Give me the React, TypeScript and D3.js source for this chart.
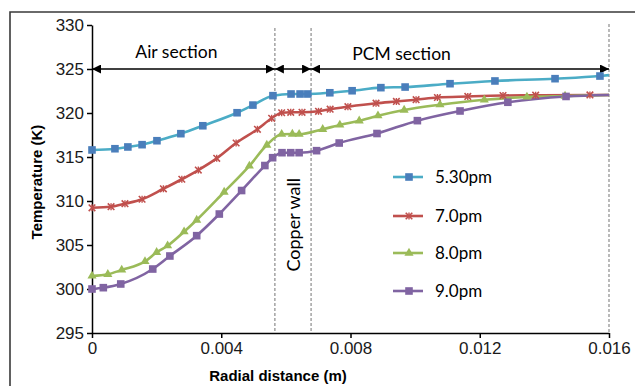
import React, { useRef, useEffect } from "react";
import * as d3 from "d3";

const seriesNames = ["5.30pm", "7.0pm", "8.0pm", "9.0pm"];

const x530 = [0, 0.00071, 0.00111, 0.00155, 0.00201, 0.00275, 0.00343, 0.00449, 0.00498, 0.0056, 0.00616, 0.00644, 0.00668, 0.00736, 0.00805, 0.00894, 0.00969, 0.01108, 0.01247, 0.01433, 0.01572, 0.016];
const y530 = [315.8, 315.94, 316.14, 316.4, 316.85, 317.65, 318.55, 320.03, 320.9, 321.97, 322.16, 322.16, 322.16, 322.3, 322.53, 322.88, 322.95, 323.33, 323.64, 323.9, 324.2, 324.3];

const x700 = [0, 0.00059, 0.00102, 0.00155, 0.00221, 0.00278, 0.00329, 0.00386, 0.00446, 0.00512, 0.00556, 0.00587, 0.00615, 0.0065, 0.00701, 0.00737, 0.00792, 0.00879, 0.00942, 0.01003, 0.01069, 0.01163, 0.01272, 0.01373, 0.01541, 0.016];
const y700 = [309.23, 309.35, 309.69, 310.2, 311.39, 312.47, 313.52, 314.85, 316.59, 318.15, 319.4, 320.03, 320.08, 320.08, 320.19, 320.43, 320.72, 321.11, 321.31, 321.51, 321.76, 321.88, 321.99, 322.02, 322.05, 322.05];

const x800 = [0, 0.00049, 0.00092, 0.00164, 0.002, 0.00234, 0.00285, 0.00324, 0.00409, 0.00487, 0.00541, 0.00587, 0.0062, 0.00641, 0.00714, 0.00767, 0.00827, 0.00885, 0.00966, 0.01077, 0.01214, 0.01346, 0.01464, 0.016];
const y800 = [301.48, 301.67, 302.16, 303.13, 304.17, 304.92, 306.51, 307.84, 311.02, 313.98, 316.36, 317.59, 317.61, 317.59, 318.15, 318.64, 319.11, 319.69, 320.34, 320.94, 321.5, 321.82, 321.93, 322.05];

const x900 = [0, 0.00035, 0.00089, 0.00188, 0.00241, 0.00324, 0.00394, 0.00463, 0.00535, 0.00559, 0.00588, 0.00615, 0.00641, 0.00695, 0.00765, 0.00882, 0.01007, 0.01139, 0.01287, 0.01467, 0.016];
const y900 = [300.0, 300.15, 300.57, 302.27, 303.75, 306.06, 308.52, 311.19, 314.03, 314.92, 315.49, 315.49, 315.49, 315.72, 316.59, 317.67, 319.13, 320.23, 321.22, 321.88, 322.05];

const xTicks = [0, 0.004, 0.008, 0.012, 0.016];
const yTicks = [295, 300, 305, 310, 315, 320, 325, 330];

// section boundaries (m)
const boundaries = [0, 0.00566, 0.00678, 0.016];
const sectionLabels = ["Air section", "Copper wall", "PCM section"];

const lineColors = ["#4bacc6", "#c0504d", "#9bbb59", "#8064a2"];
const markerColors = ["#4a7ebb", "#c0504d", "#9bbb59", "#8064a2"];
const markerTypes = ["square", "star", "triangle", "square"];

const W = 635;
const H = 386;
const annotFont = "Lato, 'Open Sans', sans-serif";
const axisFont = "'Liberation Sans', Arial, sans-serif";

const App = () => {
  const svgRef = useRef<SVGSVGElement>(null);

  useEffect(() => {
    const margin = { top: 25, right: 26, bottom: 53, left: 92 };
    const width = W - margin.left - margin.right;
    const height = H - margin.top - margin.bottom;

    const svg = d3.select(svgRef.current);
    svg.selectAll("*").remove();

    // outer frame (left + top edges only visible)
    svg
      .append("path")
      .attr("d", `M10,${H} L10,12 L${W},12`)
      .attr("fill", "none")
      .attr("stroke", "#3a3a3a")
      .attr("stroke-width", 1.6);

    const defs = svg.append("defs");
    defs
      .append("marker")
      .attr("id", "arrowhead")
      .attr("viewBox", "0 0 10 10")
      .attr("refX", 10)
      .attr("refY", 5)
      .attr("markerWidth", 9)
      .attr("markerHeight", 9)
      .attr("markerUnits", "userSpaceOnUse")
      .attr("orient", "auto-start-reverse")
      .append("path")
      .attr("d", "M0,0 L10,5 L0,10 Z")
      .attr("fill", "#000");

    const chart = svg
      .append("g")
      .attr("transform", `translate(${margin.left}, ${margin.top})`);

    const x = d3.scaleLinear().domain([0, 0.016]).range([0, width]);
    const y = d3.scaleLinear().domain([295, 330]).range([height, 0]);

    // dashed boundaries
    chart
      .selectAll(".boundary")
      .data(boundaries.slice(1))
      .enter()
      .append("line")
      .attr("class", "boundary")
      .attr("x1", (d) => x(d))
      .attr("x2", (d) => x(d))
      .attr("y1", (d, i) => (i === 2 ? -1 : 3))
      .attr("y2", height)
      .attr("stroke", "#8c8c8c")
      .attr("stroke-width", 1.2)
      .attr("stroke-dasharray", "3,2");

    // axes
    const xAxis = d3
      .axisBottom(x)
      .tickValues(xTicks)
      .tickSize(5)
      .tickSizeOuter(0)
      .tickPadding(4)
      .tickFormat((d) => (d === 0 ? "0" : d3.format(".3f")(d as number)));
    const yAxis = d3
      .axisLeft(y)
      .tickValues(yTicks)
      .tickSize(5)
      .tickSizeOuter(0)
      .tickPadding(3)
      .tickFormat(d3.format("d"));

    const gx = chart
      .append("g")
      .attr("transform", `translate(0, ${height})`)
      .call(xAxis);
    const gy = chart.append("g").call(yAxis);

    [gx, gy].forEach((g) => {
      g.select(".domain").attr("stroke", "#000").attr("stroke-width", 1.5);
      g.selectAll(".tick line").attr("stroke", "#000").attr("stroke-width", 1.5);
      g.selectAll(".tick text")
        .attr("fill", "#1a1a1a")
        .style("font-family", axisFont)
        .style("font-size", "17px");
    });

    // section arrows at 325 K
    for (let i = 0; i < 3; i++) {
      chart
        .append("line")
        .attr("x1", x(boundaries[i]))
        .attr("x2", x(boundaries[i + 1]))
        .attr("y1", y(325))
        .attr("y2", y(325))
        .attr("stroke", "#000")
        .attr("stroke-width", 1.6)
        .attr("marker-start", "url(#arrowhead)")
        .attr("marker-end", "url(#arrowhead)");
    }

    chart
      .append("text")
      .attr("x", x((boundaries[0] + boundaries[1]) / 2) - 7)
      .attr("y", y(326.3))
      .attr("text-anchor", "middle")
      .style("font-family", annotFont)
      .style("font-size", "17.5px")
      .text(sectionLabels[0]);

    chart
      .append("text")
      .attr("x", x(0.00958))
      .attr("y", y(326))
      .attr("text-anchor", "middle")
      .style("font-family", annotFont)
      .style("font-size", "17.5px")
      .text(sectionLabels[2]);

    chart
      .append("text")
      .attr(
        "transform",
        `translate(${x((boundaries[1] + boundaries[2]) / 2) + 7}, ${y(307.3)}) rotate(-90)`
      )
      .attr("text-anchor", "middle")
      .style("font-family", annotFont)
      .style("font-size", "18px")
      .text(sectionLabels[1]);

    // series
    const xs = [x530, x700, x800, x900];
    const ys = [y530, y700, y800, y900];
    const series = seriesNames.map((name, i) =>
      xs[i].map((v, j) => ({ x: v, y: ys[i][j] }))
    );

    const line = d3
      .line<{ x: number; y: number }>()
      .x((d) => x(d.x))
      .y((d) => y(d.y))
      .curve(d3.curveMonotoneX);

    const drawMarker = (g: any, type: string, cx: number, cy: number, i: number) => {
      if (type === "square") {
        g.append("rect")
          .attr("x", cx - 3.8)
          .attr("y", cy - 3.8)
          .attr("width", 7.6)
          .attr("height", 7.6)
          .attr("fill", markerColors[i]);
      } else if (type === "triangle") {
        g.append("path")
          .attr("d", d3.symbol().type(d3.symbolTriangle).size(36)())
          .attr("transform", `translate(${cx}, ${cy})`)
          .attr("fill", markerColors[i]);
      } else {
        g.append("path")
          .attr("d", d3.symbol().type(d3.symbolTimes).size(30)())
          .attr("transform", `translate(${cx}, ${cy})`)
          .attr("fill", "none")
          .attr("stroke", markerColors[i])
          .attr("stroke-width", 1.6);
        g.append("line")
          .attr("x1", cx)
          .attr("x2", cx)
          .attr("y1", cy - 3.5)
          .attr("y2", cy + 3.5)
          .attr("stroke", markerColors[i])
          .attr("stroke-width", 1.4);
      }
    };

    series.forEach((pts, i) => {
      chart
        .append("path")
        .datum(pts)
        .attr("d", line)
        .attr("fill", "none")
        .attr("stroke", lineColors[i])
        .attr("stroke-width", 2.6);
    });

    series.forEach((pts, i) => {
      const g = chart.append("g");
      pts.slice(0, -1).forEach((p) => drawMarker(g, markerTypes[i], x(p.x), y(p.y), i));
    });

    // legend
    const legend = chart.append("g").attr("transform", `translate(${393 - margin.left}, ${177 - margin.top})`);
    seriesNames.forEach((name, i) => {
      const gy0 = [0, 39, 76, 114][i];
      const g = legend.append("g").attr("transform", `translate(0, ${gy0})`);
      g.append("line")
        .attr("x1", 0)
        .attr("x2", 30)
        .attr("y1", 0)
        .attr("y2", 0)
        .attr("stroke", lineColors[i])
        .attr("stroke-width", 2.6);
      drawMarker(g, markerTypes[i], 16, 0, i);
      g.append("text")
        .attr("x", 42)
        .attr("y", 6)
        .style("font-family", annotFont)
        .style("font-size", "17px")
        .text(name);
    });

    // axis titles
    svg
      .append("text")
      .attr("x", 278)
      .attr("y", 381)
      .attr("text-anchor", "middle")
      .style("font-family", axisFont)
      .style("font-size", "15px")
      .style("font-weight", "bold")
      .text("Radial distance (m)");

    svg
      .append("text")
      .attr("transform", `translate(42, 182) rotate(-90)`)
      .attr("text-anchor", "middle")
      .style("font-family", axisFont)
      .style("font-size", "15px")
      .style("font-weight", "bold")
      .text("Temperature (K)");
  }, []);

  return (
    <svg
      ref={svgRef}
      width={W}
      height={H}
      style={{ position: "absolute", left: 0, top: 0, background: "#fff" }}
    ></svg>
  );
};

export default App;
